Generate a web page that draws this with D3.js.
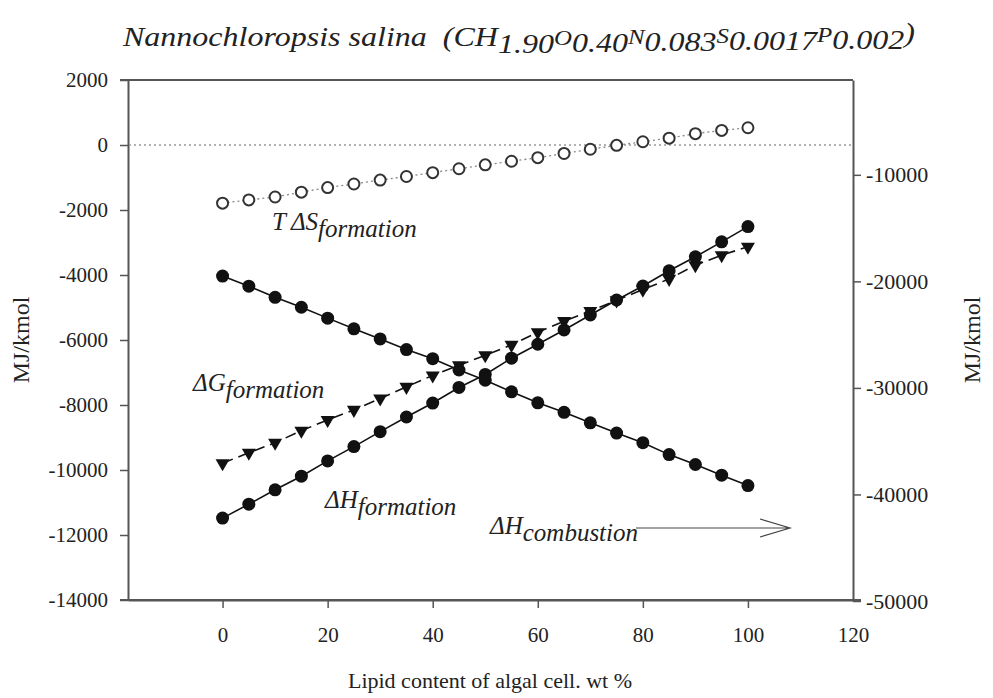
<!DOCTYPE html>
<html>
<head>
<meta charset="utf-8">
<script src="https://cdn.jsdelivr.net/npm/d3@7"></script>
<style>
  body { margin: 0; background: #fff; }
  svg text { font-family: "Liberation Serif", "Times New Roman", serif; fill: #222; }
</style>
</head>
<body>
<svg id="chart" width="993" height="698"></svg>
<script>
// lipid content, wt %
var lipid = [0, 5, 10, 15, 20, 25, 30, 35, 40, 45, 50, 55, 60, 65, 70, 75, 80, 85, 90, 95, 100];

// left axis, MJ/kmol
var dHform = [-11480, -11050, -10610, -10190, -9720, -9280, -8820, -8370, -7940, -7460, -7060,
              -6560, -6130, -5690, -5230, -4770, -4340, -3870, -3440, -2980, -2510];
var dGform = [-9790, -9470, -9160, -8790, -8460, -8150, -7800, -7440, -7090, -6780, -6470,
              -6150, -5760, -5420, -5110, -4780, -4450, -4120, -3700, -3390, -3130];
var TdSform = [-1790, -1690, -1600, -1450, -1310, -1200, -1080, -970, -850, -730, -610,
               -500, -390, -260, -130, -10, 100, 210, 350, 450, 530];

// right axis, MJ/kmol
var dHcomb = [-19500, -20450, -21500, -22430, -23450, -24450, -25400, -26400, -27260, -28320, -29280,
              -30370, -31400, -32290, -33280, -34240, -35140, -36260, -37190, -38190, -39170];

var xTicks = [0, 20, 40, 60, 80, 100, 120];
var leftTicks = [2000, 0, -2000, -4000, -6000, -8000, -10000, -12000, -14000];
var rightTicks = [-10000, -20000, -30000, -40000, -50000];

var svg = d3.select("#chart");

var x = d3.scaleLinear().domain([-18, 120]).range([128, 853]);
var yL = d3.scaleLinear().domain([-14000, 2000]).range([600, 80]);
var yR = d3.scaleLinear().domain([-50000, -1100]).range([601, 80]);

var axisColor = "#555";
var plain = function(d) { return String(d); };

// axes
var gx = svg.append("g").attr("transform", "translate(0,600)")
  .call(d3.axisBottom(x).tickValues(xTicks).tickSize(8).tickSizeOuter(0).tickPadding(19));
var gl = svg.append("g").attr("transform", "translate(128,0)")
  .call(d3.axisLeft(yL).tickValues(leftTicks).tickSize(8).tickSizeOuter(0).tickPadding(12)
    .tickFormat(plain));
var gr = svg.append("g").attr("transform", "translate(853,0)")
  .call(d3.axisRight(yR).tickValues(rightTicks).tickSize(8).tickSizeOuter(0).tickPadding(5)
    .tickFormat(plain));

[gx, gl, gr].forEach(function(g) {
  g.select(".domain").attr("stroke", axisColor).attr("stroke-width", 2);
  g.selectAll(".tick line").attr("stroke", axisColor).attr("stroke-width", 1.5);
  g.selectAll(".tick text").style("font-size", "21px").attr("fill", "#222");
});
gr.selectAll(".tick text").style("font-size", "22px");
gx.select(".tick:last-child line").remove();

// frame pieces
svg.append("line").attr("x1", 120).attr("x2", 853).attr("y1", 80).attr("y2", 80)
  .attr("stroke", axisColor).attr("stroke-width", 2);
svg.append("line").attr("x1", 120).attr("x2", 861).attr("y1", 600).attr("y2", 600)
  .attr("stroke", axisColor).attr("stroke-width", 2);

// zero line
svg.append("line").attr("x1", 129).attr("x2", 852).attr("y1", yL(0)).attr("y2", yL(0))
  .attr("stroke", "#999").attr("stroke-width", 1.3).attr("stroke-dasharray", "2,3");

var lineL = function(vals) {
  return d3.line().x(function(d, i) { return x(lipid[i]); }).y(function(d) { return yL(d); })(vals);
};
var lineR = function(vals) {
  return d3.line().x(function(d, i) { return x(lipid[i]); }).y(function(d) { return yR(d); })(vals);
};

// T dS formation
svg.append("path").attr("d", lineL(TdSform)).attr("fill", "none")
  .attr("stroke", "#888").attr("stroke-width", 1.3).attr("stroke-dasharray", "2,3");
svg.append("g").selectAll("circle").data(TdSform).enter().append("circle")
  .attr("cx", function(d, i) { return x(lipid[i]); })
  .attr("cy", function(d) { return yL(d); })
  .attr("r", 5.5).attr("fill", "#fff").attr("stroke", "#333").attr("stroke-width", 2);

// dG formation
svg.append("path").attr("d", lineL(dGform)).attr("fill", "none")
  .attr("stroke", "#111").attr("stroke-width", 1.6).attr("stroke-dasharray", "11,6");
var tri = d3.symbol().type(d3.symbolTriangle).size(85);
svg.append("g").selectAll("path").data(dGform).enter().append("path")
  .attr("d", tri)
  .attr("transform", function(d, i) { return "translate(" + x(lipid[i]) + "," + yL(d) + ") rotate(180)"; })
  .attr("fill", "#111");

// dH formation
svg.append("path").attr("d", lineL(dHform)).attr("fill", "none")
  .attr("stroke", "#111").attr("stroke-width", 1.6);
svg.append("g").selectAll("circle").data(dHform).enter().append("circle")
  .attr("cx", function(d, i) { return x(lipid[i]); })
  .attr("cy", function(d) { return yL(d); })
  .attr("r", 6.5).attr("fill", "#111");

// dH combustion (right axis)
svg.append("path").attr("d", lineR(dHcomb)).attr("fill", "none")
  .attr("stroke", "#111").attr("stroke-width", 1.6);
svg.append("g").selectAll("circle").data(dHcomb).enter().append("circle")
  .attr("cx", function(d, i) { return x(lipid[i]); })
  .attr("cy", function(d) { return yR(d); })
  .attr("r", 6.5).attr("fill", "#111");

// title, one run of text fitted to the width of the original
var title = svg.append("text").style("font-style", "italic").style("font-size", "27px");
title.append("tspan").text("Nannochloropsis salina\u00a0\u00a0(CH");
var parts = [["1.90", "O"], ["0.40", "N"], ["0.083", "S"], ["0.0017", "P"], ["0.002", null]];
parts.forEach(function(p) {
  title.append("tspan").attr("dy", 7).text(p[0]);
  if (p[1]) title.append("tspan").attr("dy", -8).style("font-size", "21px").text(p[1]);
  else title.append("tspan").attr("dy", -7).text(")");
});
var tw = title.node().getComputedTextLength();
title.attr("transform", "translate(123,46) scale(" + (792 / tw) + ",1)");

// axis titles
svg.append("text").attr("transform", "translate(29,340) rotate(-90)")
  .attr("text-anchor", "middle").style("font-size", "24px").text("MJ/kmol");
svg.append("text").attr("transform", "translate(980,340) rotate(-90)")
  .attr("text-anchor", "middle").style("font-size", "24px").text("MJ/kmol");
svg.append("text").attr("x", 490).attr("y", 688)
  .attr("text-anchor", "middle").style("font-size", "22px").text("Lipid content of algal cell. wt %");

// annotations
function note(xp, yp, main, sub) {
  var t = svg.append("text").attr("x", xp).attr("y", yp)
    .style("font-style", "italic").style("font-size", "25px");
  t.append("tspan").text(main);
  t.append("tspan").attr("dy", 7).text(sub);
  return t;
}
note(272, 230, "T\u2009\u0394S", "formation");
note(193, 391, "\u0394G", "formation");
note(325, 508, "\u0394H", "formation");
note(490, 534, "\u0394H", "combustion");

// arrow
svg.append("path").attr("d", "M636,528 L790,528 M760,519 L790,528 L760,537")
  .attr("fill", "none").attr("stroke", "#444").attr("stroke-width", 1.2);
</script>
</body>
</html>
